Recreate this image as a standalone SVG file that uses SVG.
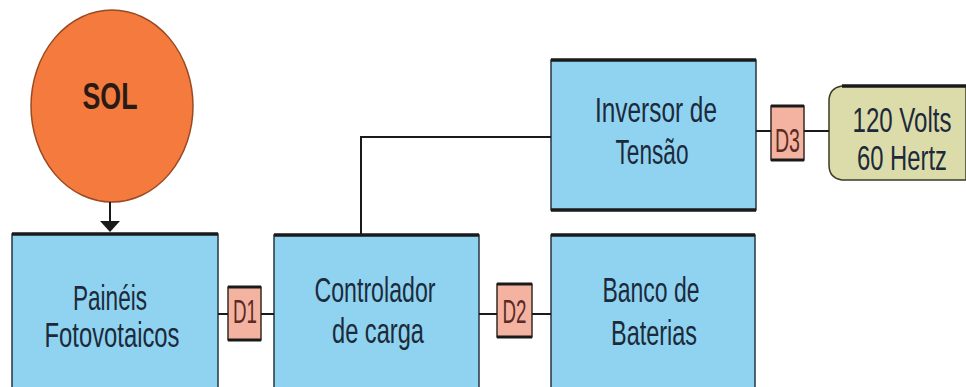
<svg xmlns="http://www.w3.org/2000/svg" width="966" height="387" viewBox="0 0 966 387">
<defs>
<style>
.box{fill:#8fd3f1;stroke:#2a3440;stroke-width:1.5}
.top{stroke:#1a1a1a;stroke-width:3.5}
.d{fill:#f4b3a0;stroke:#3a2a25;stroke-width:1.5}
.dt{stroke:#1a1a1a;stroke-width:3}
.t{font-family:"Liberation Sans",Arial,sans-serif;font-size:35px;fill:#1c2a3a;text-anchor:middle}
.dl{font-family:"Liberation Sans",Arial,sans-serif;font-size:34px;fill:#5a2a25;text-anchor:middle}
.c{stroke:#1a1a1a;stroke-width:2;fill:none}
</style>
</defs>
<rect width="966" height="387" fill="#ffffff"/>
<g id="sol">
<ellipse cx="112" cy="106" rx="81" ry="96" fill="#f47a3e" stroke="#9a4a22" stroke-width="1.5"/>
<text x="110" y="109" font-family="'Liberation Sans',Arial,sans-serif" font-size="37" font-weight="bold" fill="#2a1a15" text-anchor="middle" textLength="55" lengthAdjust="spacingAndGlyphs">SOL</text>
</g>
<g id="paineis">
<rect class="box" x="12" y="234" width="206" height="160"/>
<line class="top" x1="12" y1="234" x2="218" y2="234"/>
<text class="t" x="110" y="310" textLength="74" lengthAdjust="spacingAndGlyphs">Painéis</text>
<text class="t" x="112" y="347" textLength="135" lengthAdjust="spacingAndGlyphs">Fotovotaicos</text>
</g>
<g id="controlador">
<rect class="box" x="274" y="235" width="205" height="160"/>
<line class="top" x1="274" y1="235" x2="479" y2="235"/>
<text class="t" x="375" y="302" textLength="121" lengthAdjust="spacingAndGlyphs">Controlador</text>
<text class="t" x="378" y="343" textLength="92" lengthAdjust="spacingAndGlyphs">de carga</text>
</g>
<g id="banco">
<rect class="box" x="551" y="235" width="204" height="160"/>
<line class="top" x1="551" y1="235" x2="755" y2="235"/>
<text class="t" x="651" y="302" textLength="97" lengthAdjust="spacingAndGlyphs">Banco de</text>
<text class="t" x="654" y="345" textLength="86" lengthAdjust="spacingAndGlyphs">Baterias</text>
</g>
<g id="inversor">
<rect class="box" x="551" y="60" width="205" height="150"/>
<line class="top" x1="551" y1="60" x2="756" y2="60"/>
<line class="top" x1="551" y1="210" x2="756" y2="210" stroke-width="2.5"/>
<text class="t" x="656" y="122" textLength="122" lengthAdjust="spacingAndGlyphs">Inversor de</text>
<text class="t" x="652" y="164" textLength="73" lengthAdjust="spacingAndGlyphs">Tensão</text>
</g>
<g id="saida">
<path d="M842,86 L966,86 L966,180 L842,180 Q829,178 829,165 L829,101 Q829,88 842,86 Z" fill="#dcdcaa" stroke="#3a3a2a" stroke-width="1.5"/>
<line class="top" x1="842" y1="86" x2="966" y2="86"/>
<text class="t" x="902" y="132" fill="#2a2a20" textLength="99" lengthAdjust="spacingAndGlyphs">120 Volts</text>
<text class="t" x="902" y="170" fill="#2a2a20" textLength="90" lengthAdjust="spacingAndGlyphs">60 Hertz</text>
</g>
<g id="d1">
<rect class="d" x="228" y="287" width="33" height="53"/>
<line class="dt" x1="228" y1="287" x2="261" y2="287"/>
<line class="dt" x1="228" y1="340" x2="261" y2="340"/>
<text class="dl" x="245" y="323" textLength="24" lengthAdjust="spacingAndGlyphs">D1</text>
</g>
<g id="d2">
<rect class="d" x="497" y="284" width="35" height="53"/>
<line class="dt" x1="497" y1="284" x2="532" y2="284"/>
<line class="dt" x1="497" y1="337" x2="532" y2="337"/>
<text class="dl" x="514.5" y="323" textLength="24" lengthAdjust="spacingAndGlyphs">D2</text>
</g>
<g id="d3">
<rect class="d" x="771" y="106" width="33" height="54"/>
<line class="dt" x1="771" y1="106" x2="804" y2="106"/>
<line class="dt" x1="771" y1="160" x2="804" y2="160"/>
<text class="dl" x="787.5" y="152" textLength="25" lengthAdjust="spacingAndGlyphs">D3</text>
</g>
<g id="connectors">
<line class="c" x1="110" y1="202" x2="110" y2="222"/>
<polygon points="100,221 120,221 110,232" fill="#1a1a1a"/>
<line class="c" x1="218" y1="314" x2="228" y2="314"/>
<line class="c" x1="261" y1="314" x2="274" y2="314"/>
<line class="c" x1="479" y1="314" x2="497" y2="314"/>
<line class="c" x1="532" y1="314" x2="551" y2="314"/>
<polyline class="c" points="361,235 361,137 551,137"/>
<line class="c" x1="756" y1="131" x2="771" y2="131"/>
<line class="c" x1="804" y1="131" x2="829" y2="131"/>
</g>
</svg>
